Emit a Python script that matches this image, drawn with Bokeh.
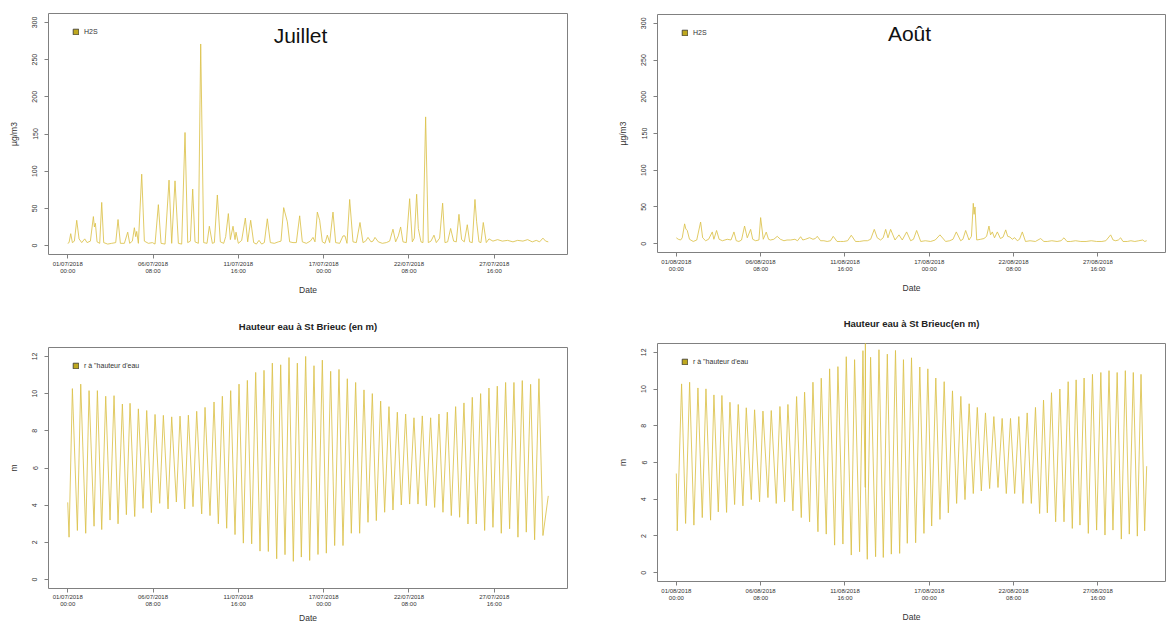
from bokeh.plotting import figure
from bokeh.layouts import row, column
from bokeh.models import Range1d, FixedTicker, Label, Legend, LegendItem
from bokeh.embed import file_html
from bokeh.resources import INLINE

FONT = "Liberation Sans"
LINE_COLOR = "#DCC24A"
LEGEND_FILL = "#BFA81E"
FRAME_COLOR = "#808080"
TEXT_COLOR = "#333333"

# ---------------- data (hours since start of month) ----------------
x_tick_hours = [0, 128, 256, 384, 512, 640]
x_tick_labels_jul = ["01/07/2018\n00:00", "06/07/2018\n08:00", "11/07/2018\n16:00",
                     "17/07/2018\n00:00", "22/07/2018\n08:00", "27/07/2018\n16:00"]
x_tick_labels_aug = ["01/08/2018\n00:00", "06/08/2018\n08:00", "11/08/2018\n16:00",
                     "17/08/2018\n00:00", "22/08/2018\n08:00", "27/08/2018\n16:00"]
h2s_ticks = [0, 50, 100, 150, 200, 250, 300]
tide_ticks = [0, 2, 4, 6, 8, 10, 12]

# H2S July (µg/m3)
h2s_jul_t = [0, 2, 4.5, 7, 10, 13.5, 17, 21, 25.5, 29, 34, 38.5, 40, 41.5, 44, 48, 51, 54, 60, 66,
             72, 75.5, 79, 85, 90, 93, 97, 100, 102, 103.5, 106, 111, 115, 121, 127, 131, 136, 140,
             146, 152, 156, 161, 166, 171, 176, 180, 184, 187.5, 191, 196, 199.5, 204, 209, 212.5,
             217, 220, 224.5, 229, 234, 237, 241, 244, 248, 251, 252.5, 256, 261, 266.5, 270, 274.5,
             279, 283, 287, 291, 295, 299.5, 304, 310, 316, 320, 324, 329.5, 333, 338, 343, 348, 352,
             358, 364, 368, 371, 374.5, 378, 382, 386, 389.5, 393, 398, 402, 408, 413, 416, 419, 423,
             428, 433, 438.5, 443, 447, 450.5, 455, 458, 461, 466, 472, 478, 483, 488, 492, 496, 499.5,
             503, 508, 513, 517, 520, 523.5, 526, 530, 533, 537, 541, 545, 549.5, 553, 558, 562.5, 566,
             570, 574.5, 579, 583, 587, 591, 595, 599.5, 603, 607, 611, 613.5, 617, 620, 623.5, 628,
             632, 638, 645, 652, 660, 668, 675, 683, 690, 697, 703, 708, 713, 717, 721]
h2s_jul_v = [3, 4, 16, 4, 6, 34, 9, 4, 9, 4, 6, 39, 25, 30, 5, 3, 58, 4, 2, 3,
             4, 35, 3, 3, 18, 3, 6, 24, 12, 19, 3, 96, 6, 3, 4, 2, 55, 3,
             2, 88, 3, 87, 3, 2, 152, 4, 6, 76, 5, 3, 271, 4, 3, 26,
             3, 4, 68, 5, 3, 12, 43, 8, 26, 8, 18, 3, 7, 37, 5, 34,
             4, 2, 7, 2, 4, 36, 4, 3, 5, 6, 51, 32, 5, 4, 4, 40, 5,
             3, 6, 11, 5, 45, 34, 5, 3, 14, 4, 45, 4, 3, 13, 13, 3, 62,
             5, 4, 31, 4, 6, 11, 5, 6, 11, 5, 3, 4, 6, 22, 5, 13, 25,
             5, 4, 63, 5, 10, 69, 23, 5, 4, 173, 4, 6, 14, 4, 10, 57, 4,
             5, 23, 6, 5, 42, 8, 5, 28, 5, 4, 62, 32, 5, 4, 31, 4,
             9, 6, 8, 6, 7, 5, 7, 6, 8, 5, 7, 5, 10, 6, 5]

# H2S August (µg/m3)
h2s_aug_t = [0, 3, 6.5, 9, 12.6, 14.5, 16.6, 20, 25.7, 31, 36.9, 40, 44.5, 49, 54.6, 57, 61.1, 65, 70,
             77.3, 83, 87.5, 91, 95, 99, 103.6, 107.7, 112.8, 116, 120.4, 125.4, 128, 132, 136.5, 140,
             143, 148, 153.2, 158, 163.4, 168, 173.5, 180, 184, 188.7, 192, 196, 202.3, 207.4, 211, 214,
             219, 224, 229, 234, 238.2, 244, 249, 254, 260, 265.6, 272, 278, 284.8, 290, 295, 300.5,
             305, 310, 314, 317.8, 321.3, 325.3, 332, 338, 343, 349.6, 355.7, 360, 364.8, 371, 378, 386,
             393, 400.2, 408.8, 415, 420, 425, 431.6, 435, 439.2, 444.3, 448, 450.8, 452, 453.4, 456,
             462, 467, 471, 474.6, 477, 479.7, 483, 487.3, 492, 496, 500, 503, 506.5, 510, 513.6, 517.6,
             521, 525.2, 530, 537, 545, 553, 558, 563, 570, 578, 584, 588.5, 593, 598.6, 606, 614, 622,
             630, 638, 646, 652, 659.3, 663, 667, 671, 674.5, 678, 684.6, 690, 696, 702, 708, 711, 714]
h2s_aug_v = [8, 6, 5, 8, 27, 20, 18, 6, 3, 5, 29.5, 8, 4, 6, 16, 6, 18, 6, 4,
             6, 5, 16, 4, 3, 5, 24, 8, 19.5, 6, 4, 5, 35.5, 6, 15.8, 6,
             5, 6, 10, 6, 4, 5, 5, 6, 4, 9.5, 5, 6, 8.2, 6, 7, 10,
             4, 4, 3, 4, 10, 3, 3, 3, 4, 11.5, 3, 3, 4, 4, 6, 19.5,
             8, 5, 8, 19.5, 8, 19.5, 5, 12, 5, 16, 4, 6, 18, 3, 4, 3,
             5, 12, 3, 4, 6, 16, 4, 6, 18, 5, 10, 55, 40, 50, 5,
             6, 7, 10, 24, 12, 16, 8, 16, 7, 9, 18.8, 10, 9, 6, 8.2, 4,
             6, 16, 3, 4, 3, 7, 3, 3, 4, 3, 4, 8, 3, 3, 4, 3, 3,
             4, 3, 3, 4, 12, 5, 4, 5, 8, 3, 3, 4, 3, 4, 5, 3, 4]

# Tide height July (m): start/end, low waters, high waters
tide_jul_ends_t = [0, 721]
tide_jul_ends_h = [4.15, 4.5]
tide_jul_low_t = [2, 14.5, 27, 39.5, 51, 63.5, 75.5, 88, 100.5, 113, 125.5, 138, 150.5, 163, 175.5,
                  188, 201, 213.5, 226, 238.5, 251, 263.5, 276, 288.5, 301, 313.5, 326, 338.5, 350.5,
                  363, 375.5, 388, 400.5, 413, 425.5, 438, 450.5, 463, 475.5, 488, 500.5, 513, 525.5,
                  538, 550.5, 563, 575.5, 588, 600.5, 613, 625.5, 638, 650.5, 663, 675.5, 688, 700.5, 713]
tide_jul_low_h = [2.28, 2.64, 2.49, 2.87, 2.69, 3.2, 3.0, 3.49, 3.39, 3.83, 3.6, 4.1, 3.8, 4.17, 3.8,
                  3.92, 3.53, 3.44, 3.0, 2.76, 2.42, 1.96, 1.92, 1.53, 1.51, 1.12, 1.34, 0.98, 1.21,
                  1.03, 1.35, 1.42, 1.83, 1.83, 2.49, 2.49, 3.08, 3.17, 3.62, 3.74, 4.01, 4.06, 4.06,
                  3.97, 3.88, 3.62, 3.44, 3.35, 2.99, 2.99, 2.64, 2.81, 2.49, 2.73, 2.28, 2.55, 2.14, 2.37]
tide_jul_high_t = [7, 19.5, 32, 44.5, 57, 69.5, 82, 93.5, 106, 118.5, 131, 143.5, 156, 168.5, 181,
                   193.5, 206, 219.5, 232, 244.5, 257, 269.5, 282, 294.5, 307, 319.5, 332, 344.5, 357,
                   369.5, 382, 394.5, 407, 419.5, 432, 444.5, 457, 469.5, 482, 494.5, 507, 519.5, 532,
                   544.5, 557, 569.5, 582, 594.5, 607, 619.5, 632, 644.5, 657, 669.5, 682, 694.5, 707]
tide_jul_high_h = [10.27, 10.51, 10.16, 10.16, 9.86, 9.89, 9.44, 9.48, 9.18, 9.09, 8.88, 8.83, 8.75,
                   8.79, 8.84, 9.05, 9.26, 9.55, 9.86, 10.16, 10.51, 10.71, 11.14, 11.25, 11.64, 11.55,
                   11.94, 11.64, 12.0, 11.5, 11.8, 11.2, 11.3, 10.8, 10.6, 10.2, 10.0, 9.6, 9.3, 9.0,
                   8.9, 8.7, 8.8, 8.7, 8.9, 9.0, 9.3, 9.5, 9.8, 10.0, 10.3, 10.4, 10.6, 10.6, 10.7,
                   10.5, 10.8]

# Tide height August (m)
tide_aug_ends_t = [0, 714]
tide_aug_ends_h = [5.4, 5.8]
tide_aug_low_t = [1.4, 14.1, 26.7, 39.4, 52, 63.7, 76.3, 88.5, 101.1, 113.8, 126.4, 139.1, 151.7, 164.4,
                  177, 189.7, 202.3, 215, 227.6, 240.3, 252.9, 265.6, 278.2, 289.9, 302.5, 314.2, 326.4,
                  339, 350.6, 363.3, 375.9, 387.6, 400.2, 412.9, 425.5, 438.2, 450.8, 463, 475.6, 488.3,
                  500.9, 513.6, 526.2, 538.9, 551.5, 563.2, 575.8, 588.5, 601.1, 612.7, 625.4, 638,
                  650.7, 662.8, 675.5, 687.6, 699.8, 710.9]
tide_aug_low_h = [2.28, 2.68, 2.59, 3.0, 2.86, 3.31, 3.28, 3.71, 3.64, 3.98, 3.86, 4.09, 3.77, 3.86,
                  3.37, 3.0, 2.77, 2.23, 2.1, 1.5, 1.56, 0.96, 1.14, 0.73, 0.87, 0.83, 1.01, 1.05, 1.6,
                  1.63, 2.14, 2.54, 2.9, 3.26, 3.77, 3.98, 4.31, 4.45, 4.58, 4.64, 4.31, 4.31, 3.77,
                  3.77, 3.22, 3.26, 2.77, 2.77, 2.41, 2.59, 2.14, 2.32, 2.05, 2.32, 1.83, 2.1, 1.99, 2.28]
tide_aug_high_t = [8, 20.2, 32.8, 45, 57.1, 69.2, 81.4, 94, 106.2, 118.8, 131.5, 144.1, 157.3, 169.4,
                   182.6, 194.7, 207.4, 220, 232.7, 245.3, 258, 270.6, 283.3, 294.9, 307.6, 320.3, 332.7,
                   344.8, 357, 369.6, 381.8, 393.9, 406.6, 419.2, 431.9, 444.5, 456.9, 469.3, 482, 494.6,
                   507.3, 519.9, 532.6, 545.2, 557.4, 569.5, 582.2, 594.8, 606.9, 619, 631.7, 644.4,
                   656.8, 669.2, 681.6, 693.7, 705.4]
tide_aug_high_h = [10.28, 10.37, 10.06, 10.01, 9.68, 9.65, 9.28, 9.16, 8.98, 8.87, 8.8, 8.83, 9.05,
                   9.16, 9.59, 9.83, 10.37, 10.59, 11.1, 11.22, 11.76, 11.6, 12.09, 11.73, 12.14, 11.9,
                   12.1, 11.6, 11.7, 11.2, 11.1, 10.6, 10.4, 9.9, 9.6, 9.2, 9.0, 8.7, 8.5, 8.4, 8.4,
                   8.5, 8.7, 9.0, 9.4, 9.8, 10.0, 10.4, 10.5, 10.6, 10.8, 10.9, 11.0, 10.9, 11.0, 10.9,
                   10.8]
# spurious spike in the August record
tide_aug_spike_t = [286.8, 287.0, 287.2]
tide_aug_spike_h = [4.65, 13.5, 4.6]


def merge(*pairs):
    pts = []
    for ts, hs in pairs:
        pts.extend(zip(ts, hs))
    pts.sort(key=lambda p: p[0])
    return [p[0] for p in pts], [p[1] for p in pts]


tide_jul_t, tide_jul_h = merge((tide_jul_ends_t, tide_jul_ends_h), (tide_jul_low_t, tide_jul_low_h),
                               (tide_jul_high_t, tide_jul_high_h))
tide_aug_t, tide_aug_h = merge((tide_aug_ends_t, tide_aug_ends_h), (tide_aug_low_t, tide_aug_low_h),
                               (tide_aug_high_t, tide_aug_high_h), (tide_aug_spike_t, tide_aug_spike_h))


def panel(width, height, borders, t, v, ylim, yticks, xlabels, ylabel, legend_label,
          title=None, title_standoff=12, month=None, month_dy=20, date_standoff=8,
          tick_label_standoff=2):
    bl, br, bt, bb = borders
    frame_h = height - bt - bb
    span = max(t) - min(t)
    yspan = ylim[1] - ylim[0]
    p = figure(width=width, height=height, output_backend="svg", toolbar_location=None,
               x_range=Range1d(min(t) - 0.04 * span, max(t) + 0.04 * span),
               y_range=Range1d(ylim[0] - 0.04 * yspan, ylim[1] + 0.04 * yspan),
               min_border_left=bl, min_border_right=br, min_border_top=bt, min_border_bottom=bb)
    p.grid.visible = False
    p.outline_line_color = FRAME_COLOR
    p.outline_line_width = 1
    p.background_fill_color = "white"
    p.border_fill_color = "white"

    p.line(t, v, line_color=LINE_COLOR, line_width=0.85)

    xa = p.xaxis[0]
    xa.ticker = FixedTicker(ticks=x_tick_hours)
    xa.major_label_overrides = {h: lab for h, lab in zip(x_tick_hours, xlabels)}
    xa.axis_line_color = None
    xa.major_tick_line_color = FRAME_COLOR
    xa.major_tick_out = 4
    xa.major_tick_in = 0
    xa.minor_tick_line_color = None
    xa.major_label_text_font = FONT
    xa.major_label_text_font_size = "6px"
    xa.major_label_text_color = TEXT_COLOR
    xa.major_label_standoff = tick_label_standoff
    xa.axis_label = "Date"
    xa.axis_label_text_font = FONT
    xa.axis_label_text_font_size = "8.5px"
    xa.axis_label_text_font_style = "normal"
    xa.axis_label_text_color = TEXT_COLOR
    xa.axis_label_standoff = date_standoff

    ya = p.yaxis[0]
    ya.ticker = FixedTicker(ticks=yticks)
    ya.axis_line_color = None
    ya.major_tick_line_color = FRAME_COLOR
    ya.major_tick_out = 4
    ya.major_tick_in = 0
    ya.minor_tick_line_color = None
    ya.major_label_orientation = "vertical"
    ya.major_label_text_font = FONT
    ya.major_label_text_font_size = "7px"
    ya.major_label_text_color = TEXT_COLOR
    ya.major_label_standoff = 7
    ya.axis_label = ylabel
    ya.axis_label_text_font = FONT
    ya.axis_label_text_font_size = "8.5px"
    ya.axis_label_text_font_style = "normal"
    ya.axis_label_text_color = TEXT_COLOR
    ya.axis_label_standoff = 11

    if title:
        p.title.text = title
        p.title.align = "center"
        p.title.text_font = FONT
        p.title.text_font_size = "9.5px"
        p.title.text_font_style = "bold"
        p.title.text_color = "#222222"
        p.title.standoff = title_standoff

    if month:
        p.add_layout(Label(x=252, y=frame_h - month_dy, x_units="screen", y_units="screen", text=month,
                           text_font=FONT, text_font_size="21px", text_color="#111111",
                           text_align="center", text_baseline="middle"))

    nan = float("nan")
    leg_r = p.quad(left=[nan], right=[nan], top=[nan], bottom=[nan], fill_color=LEGEND_FILL,
                   line_color="#333333", line_width=0.8)
    legend = Legend(items=[LegendItem(label=legend_label, renderers=[leg_r])],
                    location=(24, frame_h - 22), glyph_width=7, glyph_height=7, label_height=7,
                    label_width=10, label_standoff=5, padding=0, margin=0, spacing=0,
                    border_line_color=None, background_fill_alpha=0,
                    label_text_font=FONT, label_text_font_size="7px", label_text_color=TEXT_COLOR)
    p.add_layout(legend)
    return p


p1 = panel(580, 300, (48, 13, 13, 46), h2s_jul_t, h2s_jul_v, (0, 300), h2s_ticks,
           x_tick_labels_jul, "µg/m3", "H2S", month="Juillet", month_dy=22)
p2 = panel(586, 300, (77, 1, 14, 48), h2s_aug_t, h2s_aug_v, (0, 300), h2s_ticks,
           x_tick_labels_aug, "µg/m3", "H2S", month="Août", month_dy=19)
p3 = panel(580, 325, (48, 13, 47, 37), tide_jul_t, tide_jul_h, (0, 12), tide_ticks,
           x_tick_labels_jul, "m", "r à \"hauteur d'eau", title="Hauteur eau à St Brieuc (en m)",
           title_standoff=32, date_standoff=3, tick_label_standoff=1)
p4 = panel(586, 325, (77, 1, 43, 44), tide_aug_t, tide_aug_h, (0, 12), tide_ticks,
           x_tick_labels_aug, "m", "r à \"hauteur d'eau", title="Hauteur eau à St Brieuc(en m)",
           title_standoff=30)

# each figure is wrapped on its own so that the row does not align the plot frames
layout = column(row(column(p1), column(p2)), row(column(p3), column(p4)))
open("out.html", "w").write(file_html(layout, INLINE))
